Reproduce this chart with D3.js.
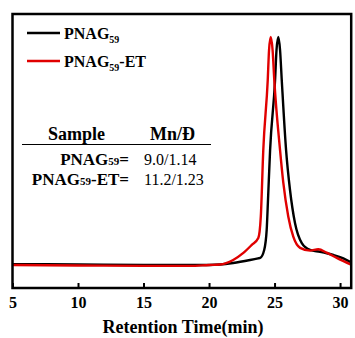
<!DOCTYPE html>
<meta charset="utf-8">
<script src="https://d3js.org/d3.v7.min.js"></script>
<style>
  body { margin: 0; background: #fff; }
</style>
<div id="chart"></div>
<script>

// GPC traces (retention time in min, normalised RI signal)
var timeBlack = [5, 10, 15, 20, 20.84, 21.84, 23.13, 23.74, 23.9, 24.21, 24.4, 24.5, 24.66, 25.04, 25.15, 25.29, 25.42, 25.55, 25.88, 26.18, 26.56, 27.08, 27.71, 28.47, 29.49, 30.25, 30.89];
var signalBlack = [0.004, 0.002, 0, 0, 0.002, 0.009, 0.022, 0.029, 0.031, 0.066, 0.154, 0.285, 0.504, 0.811, 0.943, 1.0, 0.943, 0.811, 0.504, 0.329, 0.184, 0.096, 0.066, 0.058, 0.044, 0.029, 0.010];

var timeRed = [5, 10, 15, 18.55, 20, 20.84, 21.84, 22.62, 23.26, 23.76, 23.95, 24.14, 24.48, 24.58, 24.71, 24.85, 24.98, 25.42, 25.67, 26.05, 26.43, 26.95, 27.71, 28.34, 28.98, 29.75, 30.89];
var signalRed = [0, -0.002, -0.004, -0.004, 0, 0.002, 0.022, 0.053, 0.088, 0.118, 0.212, 0.504, 0.811, 0.943, 1.0, 0.943, 0.811, 0.504, 0.360, 0.212, 0.124, 0.075, 0.063, 0.069, 0.054, 0.031, 0];

var xTicks = [5, 10, 15, 20, 25, 30];
var tableRows = [["PNAG", "59", "=", "9.0/1.14"], ["PNAG", "59", "-ET=", "11.2/1.23"]];

var serif = "Liberation Serif";
var width = 355, height = 338;
var plot = {left: 12.5, right: 351.2, top: 14, bottom: 288};

var svg = d3.select("#chart").append("svg")
  .attr("width", width)
  .attr("height", height);

var x = d3.scaleLinear().domain([5, 30.85]).range([plot.left, plot.right]);
var y = d3.scaleLinear().domain([-0.1009, 1.1009]).range([plot.bottom, plot.top]);

svg.append("clipPath").attr("id", "clip")
  .append("rect")
    .attr("x", plot.left).attr("y", plot.top)
    .attr("width", plot.right - plot.left).attr("height", plot.bottom - plot.top);

var line = d3.line()
  .x(function(d){ return x(d[0]) })
  .y(function(d){ return y(d[1]) })
  .curve(d3.curveMonotoneX);

var series = [
  {color: "#000000", pts: d3.zip(timeBlack, signalBlack)},
  {color: "#e00000", pts: d3.zip(timeRed, signalRed)}
];

svg.append("g").attr("clip-path", "url(#clip)")
  .selectAll("path")
  .data(series)
  .enter()
  .append("path")
    .attr("d", function(d){ return line(d.pts) })
    .attr("fill", "none")
    .attr("stroke", function(d){ return d.color })
    .attr("stroke-width", 2.4)
    .attr("stroke-linejoin", "round");

// bottom axis, ticks pointing in
var xAxis = svg.append("g")
  .attr("transform", "translate(0," + plot.bottom + ")")
  .call(d3.axisBottom(x).tickValues(xTicks).tickSize(-5).tickPadding(9).tickFormat(d3.format("d")));
xAxis.select(".domain").remove();
xAxis.selectAll("line").attr("stroke-width", 2);
xAxis.selectAll("text")
  .attr("fill", "#000")
  .style("font-family", serif)
  .style("font-size", "16px")
  .style("font-weight", "bold");

// frame
svg.append("rect")
  .attr("x", plot.left).attr("y", plot.top)
  .attr("width", plot.right - plot.left).attr("height", plot.bottom - plot.top)
  .attr("fill", "none")
  .attr("stroke", "#000")
  .attr("stroke-width", 2.5);

svg.append("text")
  .attr("x", 183).attr("y", 333)
  .attr("text-anchor", "middle")
  .style("font-family", serif)
  .style("font-size", "18px").style("font-weight", "bold")
  .text("Retention Time(min)");

// legend
var legend = [{color: "#000000", suffix: "", y: 33}, {color: "#e00000", suffix: "-ET", y: 61}];
legend.forEach(function(l){
  svg.append("line")
    .attr("x1", 27).attr("x2", 60).attr("y1", l.y).attr("y2", l.y)
    .attr("stroke", l.color).attr("stroke-width", 2.4);
  var t = svg.append("text")
    .attr("x", 64).attr("y", l.y + 6)
    .style("font-family", serif)
    .style("font-size", "16px").style("font-weight", "bold");
  t.append("tspan").text("PNAG");
  t.append("tspan").attr("dy", 4).style("font-size", "10px").text("59");
  if (l.suffix) t.append("tspan").attr("dy", -4).text(l.suffix);
});

// inset table
svg.append("text").attr("x", 48).attr("y", 140)
  .style("font-family", serif)
  .style("font-size", "18px").style("font-weight", "bold").text("Sample");
svg.append("text").attr("x", 150).attr("y", 140)
  .style("font-family", serif)
  .style("font-size", "18px").style("font-weight", "bold").text("Mn/Đ");
svg.append("line")
  .attr("x1", 22).attr("x2", 211).attr("y1", 144.5).attr("y2", 144.5)
  .attr("stroke", "#000").attr("stroke-width", 1);

tableRows.forEach(function(r, i){
  var yy = 165 + i * 20;
  var t = svg.append("text")
    .attr("x", 129).attr("y", yy)
    .attr("text-anchor", "end")
    .style("font-family", serif)
    .style("font-size", "17px").style("font-weight", "bold");
  t.append("tspan").text(r[0]);
  t.append("tspan").style("font-size", "11px").text(r[1]);
  t.append("tspan").text(r[2]);
  svg.append("text")
    .attr("x", 144).attr("y", yy)
    .style("font-family", serif)
    .style("font-size", "16px")
    .text(r[3]);
});

</script>
